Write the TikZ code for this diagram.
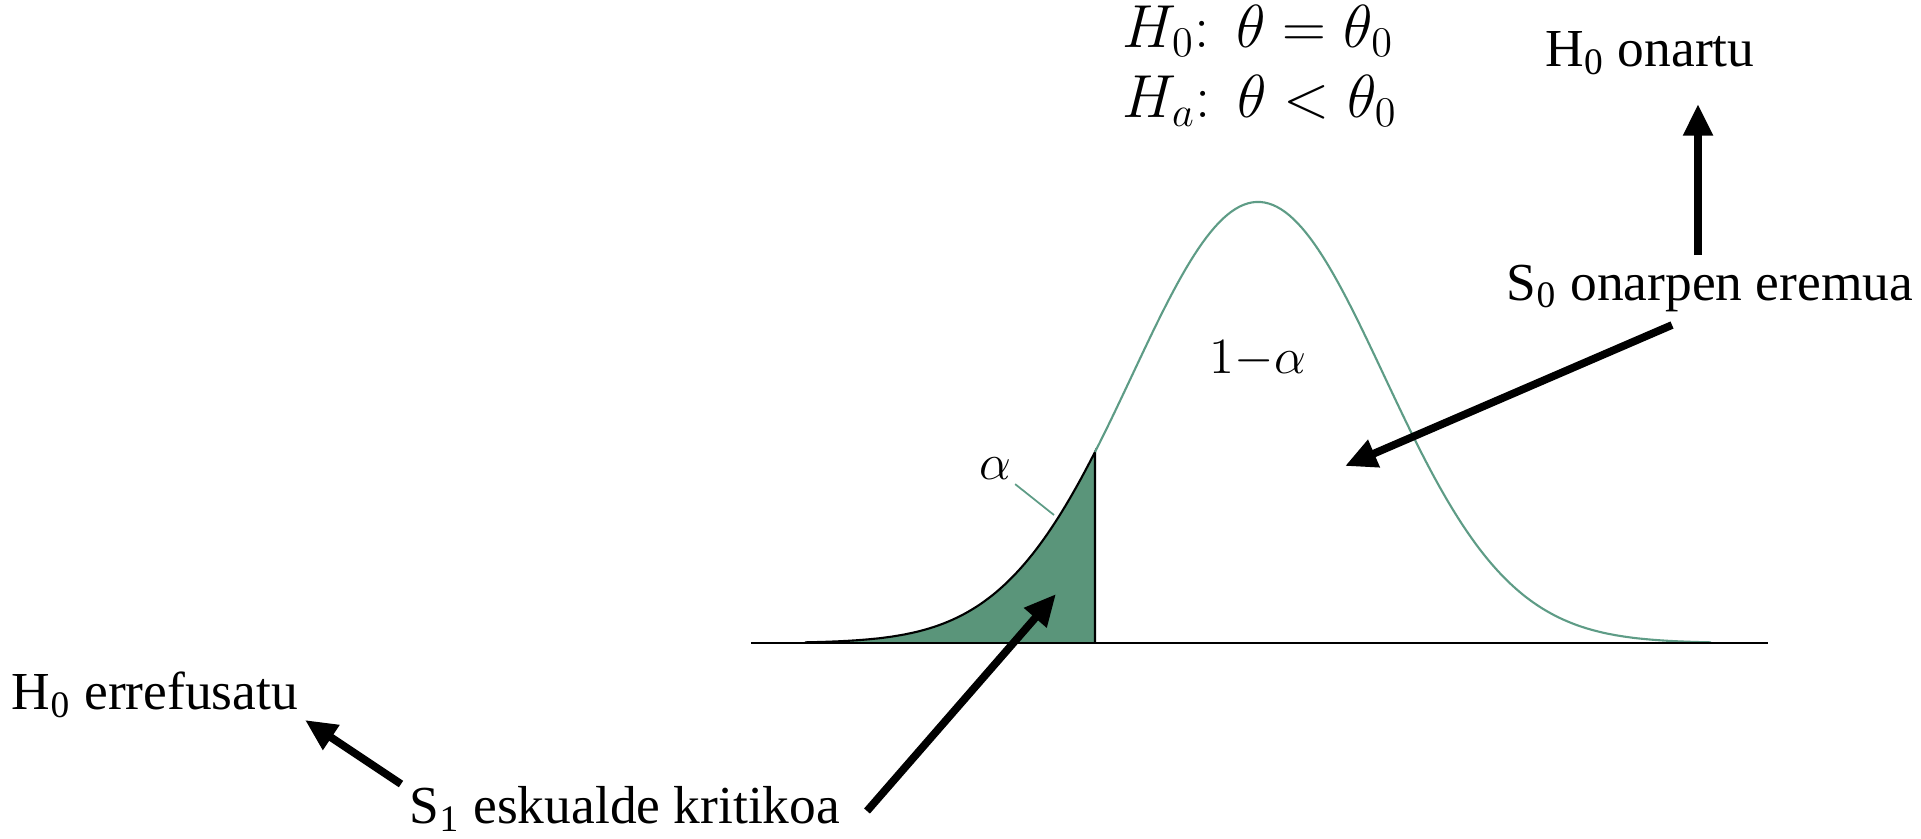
\documentclass[tikz,border=0pt]{standalone}
\usepackage{fontspec}
\setmainfont{Liberation Serif}
\usepackage{tikz}
\usetikzlibrary{positioning,arrows.meta,calc}
\definecolor{tailgreen}{HTML}{5A957A}
\definecolor{curvegreen}{HTML}{5E9C86}
\tikzset{
  lbl/.style={font=\fontsize{15.2}{18}\selectfont,inner sep=1pt},
  small/.style={font=\fontsize{13.5}{16}\selectfont,inner sep=1pt},
  arr/.style={-{Triangle[length=9pt,width=8pt]},line width=2.2pt},
}
\begin{document}
\begin{tikzpicture}[x=0.01cm,y=-0.01cm]
\useasboundingbox (0,0) rectangle (1921,838);
% shaded tail
\fill[tailgreen] (805,643) -- plot[domain=805:1095,samples=80] (\x,{643-441*exp(-((\x-1258)/126)^2/2)}) -- (1095,643) -- cycle;
\draw[black,line width=0.6pt] plot[domain=805:1095,samples=80] (\x,{643-441*exp(-((\x-1258)/126)^2/2)}) -- (1095,643);
\draw[curvegreen,line width=0.6pt] plot[domain=1095:1711,samples=150] (\x,{643-441*exp(-((\x-1258)/126)^2/2)});
\draw[line width=0.6pt] (751,643) -- (1768,643);
% labels
\node[lbl,align=left,font=\fontsize{16.8}{19}\selectfont] (hyp) at (1260,66) {$H_0\colon\;\theta=\theta_0$\\[1pt]$H_a\colon\;\theta<\theta_0$};
\node[lbl] (accept) at (1650,53) {H\textsubscript{0} onartu};
\node[lbl] (szero) at (1710,288) {S\textsubscript{0} onarpen eremua};
\node[lbl] (reject) at (155,695) {H\textsubscript{0} errefusatu};
\node[lbl] (sone) at (625,809) {S\textsubscript{1} eskualde kritikoa};
\node[small] (onem) at (1258,359) {$1{-}\alpha$};
\node[small] (alpha) at (995,469) {$\alpha$};
% arrow ends
\coordinate (uptip) at (1698,104);
\coordinate (upfoot) at (1698,255);
\coordinate (bodytip) at (1345,466);
\coordinate (bodyfoot) at (1672,325);
\coordinate (tailtip) at (1056,594);
\coordinate (tailfoot) at (867,811);
\coordinate (rejtip) at (305,720);
\coordinate (rejfoot) at (401,784);
\coordinate (alphapt) at (1054,515);
\draw[arr] (upfoot) -- (uptip);
\draw[arr] (bodyfoot) -- (bodytip);
\draw[arr] (tailfoot) -- (tailtip);
\draw[arr] (rejfoot) -- (rejtip);
\draw[curvegreen,line width=0.5pt] (alpha.south east) -- (alphapt);
\end{tikzpicture}
\end{document}
